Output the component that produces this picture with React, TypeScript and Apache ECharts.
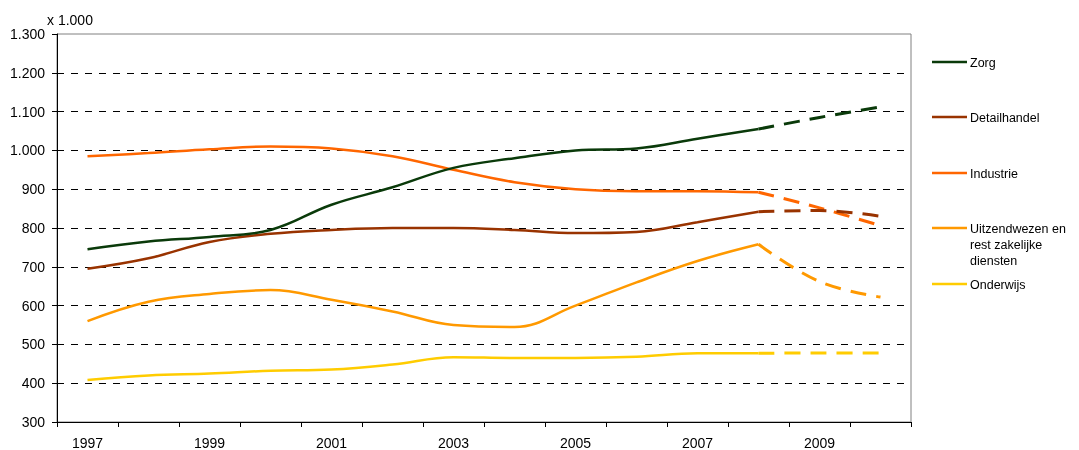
import React, { useEffect, useRef } from "react";
import * as echarts from "echarts";

const years = ["1997","1998","1999","2000","2001","2002","2003","2004","2005","2006","2007","2008","2009","2010"];
const zorg = [745, 765, 777, 795, 860, 905, 955, 980, 1000, 1005, 1030, 1055, 1085, 1112];
const detailhandel = [695, 722, 764, 785, 795, 800, 800, 795, 787, 790, 815, 842, 845, 830];
const industrie = [985, 993, 1003, 1010, 1005, 985, 950, 918, 900, 895, 895, 892, 852, 806];
const uitzend = [560, 610, 630, 640, 615, 585, 550, 545, 600, 660, 715, 758, 662, 622];
const onderwijs = [408, 420, 425, 432, 435, 448, 467, 465, 465, 468, 477, 477, 478, 478];
const names = ["Zorg", "Detailhandel", "Industrie", "Uitzendwezen en\nrest zakelijke\ndiensten", "Onderwijs"];
const colors = ["#0A3A0A", "#993300", "#FF6600", "#FF9900", "#FFCC00"];
const forecastFrom = 11; // index of 2008
const yTicks = [300, 400, 500, 600, 700, 800, 900, 1000, 1100, 1200, 1300];

const fmt = (v: number) => {
  const s = String(Math.round(v));
  return s.length > 3 ? s.slice(0, s.length - 3) + "." + s.slice(-3) : s;
};

export default function App() {
  const ref = useRef<HTMLDivElement>(null);
  useEffect(() => {
    if (!ref.current) return;
    const chart = echarts.init(ref.current, undefined, { renderer: "svg" });
    const all = [zorg, detailhandel, industrie, uitzend, onderwijs];
    const series: any[] = [];
    all.forEach((d, i) => {
      series.push({
        type: "line",
        name: names[i],
        smooth: 0.4,
        symbol: "none",
        data: d.map((v, j) => (j <= forecastFrom ? v : null)),
        lineStyle: { color: colors[i], width: 2.5 },
        z: 10 - i,
      });
      series.push({
        type: "line",
        name: names[i] + " prognose",
        smooth: 0.4,
        symbol: "none",
        data: d.map((v, j) => (j >= forecastFrom ? v : null)),
        lineStyle: { color: colors[i], width: 3, type: [16, 10] },
        z: 10 - i,
      });
    });
    const legendTops = [62, 117, 173, 228, 284];
    const graphic: any[] = [];
    names.forEach((n, i) => {
      graphic.push({
        type: "line",
        shape: { x1: 932, y1: legendTops[i], x2: 967, y2: legendTops[i] },
        style: { stroke: colors[i], lineWidth: 2.5 },
      });
      graphic.push({
        type: "text",
        x: 970,
        y: legendTops[i] - 7,
        style: {
          text: n,
          fill: "#000",
          font: "12.5px 'Liberation Sans', Arial, sans-serif",
          lineHeight: 16,
          textVerticalAlign: "top",
        },
      });
    });
    graphic.push({
      type: "text",
      x: 47,
      y: 13,
      style: { text: "x 1.000", fill: "#000", font: "14px 'Liberation Sans', Arial, sans-serif" },
    });
    chart.setOption({
      animation: false,
      textStyle: { fontFamily: "'Liberation Sans', Arial, sans-serif" },
      grid: {
        left: 57,
        right: 168,
        top: 34,
        bottom: 26,
        show: true,
        borderColor: "#808080",
        borderWidth: 1,
      },
      xAxis: {
        type: "category",
        data: years,
        boundaryGap: true,
        axisLine: { lineStyle: { color: "#000", width: 1 } },
        axisTick: { show: true, interval: 0, length: 5, lineStyle: { color: "#000" } },
        axisLabel: { interval: 1, color: "#000", fontSize: 14, margin: 14 },
        splitLine: { show: false },
      },
      yAxis: {
        type: "value",
        min: 300,
        max: 1300,
        interval: 100,
        axisLine: { show: true, lineStyle: { color: "#000", width: 1 } },
        axisTick: { show: true, length: 5, lineStyle: { color: "#000" } },
        axisLabel: { color: "#000", fontSize: 14, margin: 12, formatter: (v: number) => fmt(v) },
        splitLine: {
          show: true,
          lineStyle: {
            color: yTicks.map((t) => (t === 300 || t === 1300 ? "transparent" : "#000")),
            type: [7, 7],
            width: 1,
          },
        },
      },
      graphic,
      series,
    });
    return () => chart.dispose();
  }, []);
  return <div ref={ref} style={{ position: "fixed", left: 0, top: 0, width: 1079, height: 450 }} />;
}
